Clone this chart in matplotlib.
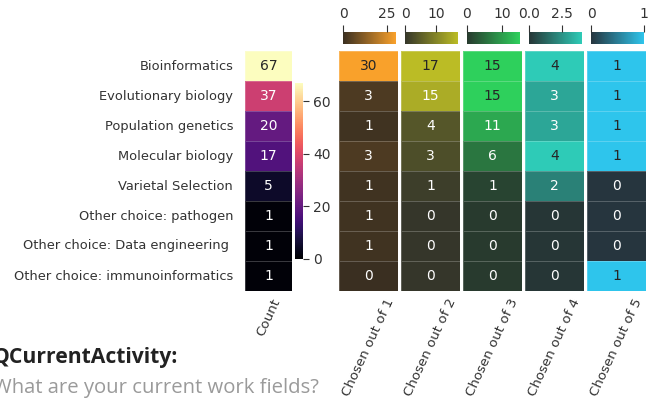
import matplotlib
matplotlib.use("Agg")
import matplotlib.pyplot as plt
from matplotlib.colors import LinearSegmentedColormap
import numpy as np
import seaborn as sns

# Survey answers per work field
fields = ["Bioinformatics", "Evolutionary biology", "Population genetics",
          "Molecular biology", "Varietal Selection", "Other choice: pathogen",
          "Other choice: Data engineering ", "Other choice: immunoinformatics"]
counts = [67, 37, 20, 17, 5, 1, 1, 1]
chosen_1 = [30, 3, 1, 3, 1, 1, 1, 0]
chosen_2 = [17, 15, 4, 3, 1, 0, 0, 0]
chosen_3 = [15, 15, 11, 6, 1, 0, 0, 0]
chosen_4 = [4, 3, 3, 4, 2, 0, 0, 0]
chosen_5 = [1, 1, 1, 1, 0, 0, 0, 1]
chosen_labels = ["Chosen out of 1", "Chosen out of 2", "Chosen out of 3",
                 "Chosen out of 4", "Chosen out of 5"]
chosen_colors = ["#f9a12b", "#bbbc25", "#2ed05c", "#2ecbb7", "#2ec5ec"]
dark_colors = ["#3a2f21", "#35362a", "#283a2e", "#263636", "#26353e"]
chosen_ticks = [[0, 25], [0, 10], [0, 10], [0, 2.5], [0, 1]]

W, H = 662, 405
TXT = "#333333"
SEP = (1, 1, 1, 0.22)
plt.rcParams['font.family'] = ['DejaVu Sans']


def px_axes(fig, x0, y0, x1, y1):
    # pixel box (top-left origin) -> figure axes
    return fig.add_axes([x0 / W, 1 - y1 / H, (x1 - x0) / W, (y1 - y0) / H])


def style_xlabels(ax):
    ax.tick_params(axis="x", length=0, pad=4, labelsize=9.6, labelcolor=TXT)
    for t in ax.get_xticklabels():
        t.set_rotation(65)
        t.set_ha("center")
        t.set_va("top")


fig = plt.figure(figsize=(W / 100, H / 100), dpi=100)

# Count column with vertical colorbar
ax_c = px_axes(fig, 245, 51, 292, 291)
cax_c = px_axes(fig, 295, 83, 303, 259)
sns.heatmap(np.array(counts)[:, None], ax=ax_c, cbar_ax=cax_c, cmap="magma",
            vmin=0, vmax=max(counts), annot=True, fmt="d",
            annot_kws={"fontsize": 10}, linewidths=0.7, linecolor=SEP,
            xticklabels=["Count"], yticklabels=fields)
ax_c.tick_params(axis="y", length=0, pad=8.5, labelsize=9.4, labelcolor=TXT,
                 rotation=0)
style_xlabels(ax_c)
cax_c.set_yticks([0, 20, 40, 60])
cax_c.tick_params(length=4, width=0.8, labelsize=10, labelcolor=TXT, color=TXT)

# "Chosen out of N" columns, each with its own scale on top
series = [chosen_1, chosen_2, chosen_3, chosen_4, chosen_5]
lefts = [339, 401, 463, 525, 587]
for vals, lab, col, dark, ticks, x0 in zip(series, chosen_labels, chosen_colors,
                                           dark_colors, chosen_ticks, lefts):
    ax = px_axes(fig, x0, 51, x0 + 59, 291)
    cax = px_axes(fig, x0 + 4, 32, x0 + 57, 44)
    cmap = LinearSegmentedColormap.from_list(lab, [dark, col])
    sns.heatmap(np.array(vals)[:, None], ax=ax, cbar_ax=cax, cmap=cmap,
                annot=True, fmt="d", annot_kws={"fontsize": 10},
                linewidths=0.7, linecolor=SEP,
                cbar_kws={"orientation": "horizontal"},
                xticklabels=[lab], yticklabels=False)
    style_xlabels(ax)
    cax.set_xticks(ticks)
    cax.xaxis.set_ticks_position("top")
    cax.xaxis.set_label_position("top")
    cax.tick_params(length=5, width=0.8, pad=3, labelsize=10, labelcolor=TXT,
                    color=TXT)

# Question title, partly cut off on the left like the original
fig.text(-7 / W, 1 - 357 / H, "QCurrentActivity:", fontsize=15.2,
         fontweight="bold", family=["Open Sans", "DejaVu Sans"],
         color="#222222", va="center", ha="left")
fig.text(-7 / W, 1 - 388 / H, "What are your current work fields?",
         fontsize=14.6, family=["Open Sans", "DejaVu Sans"], color="#9a9a9a",
         va="center", ha="left")

fig.savefig("out.png", dpi=100)
